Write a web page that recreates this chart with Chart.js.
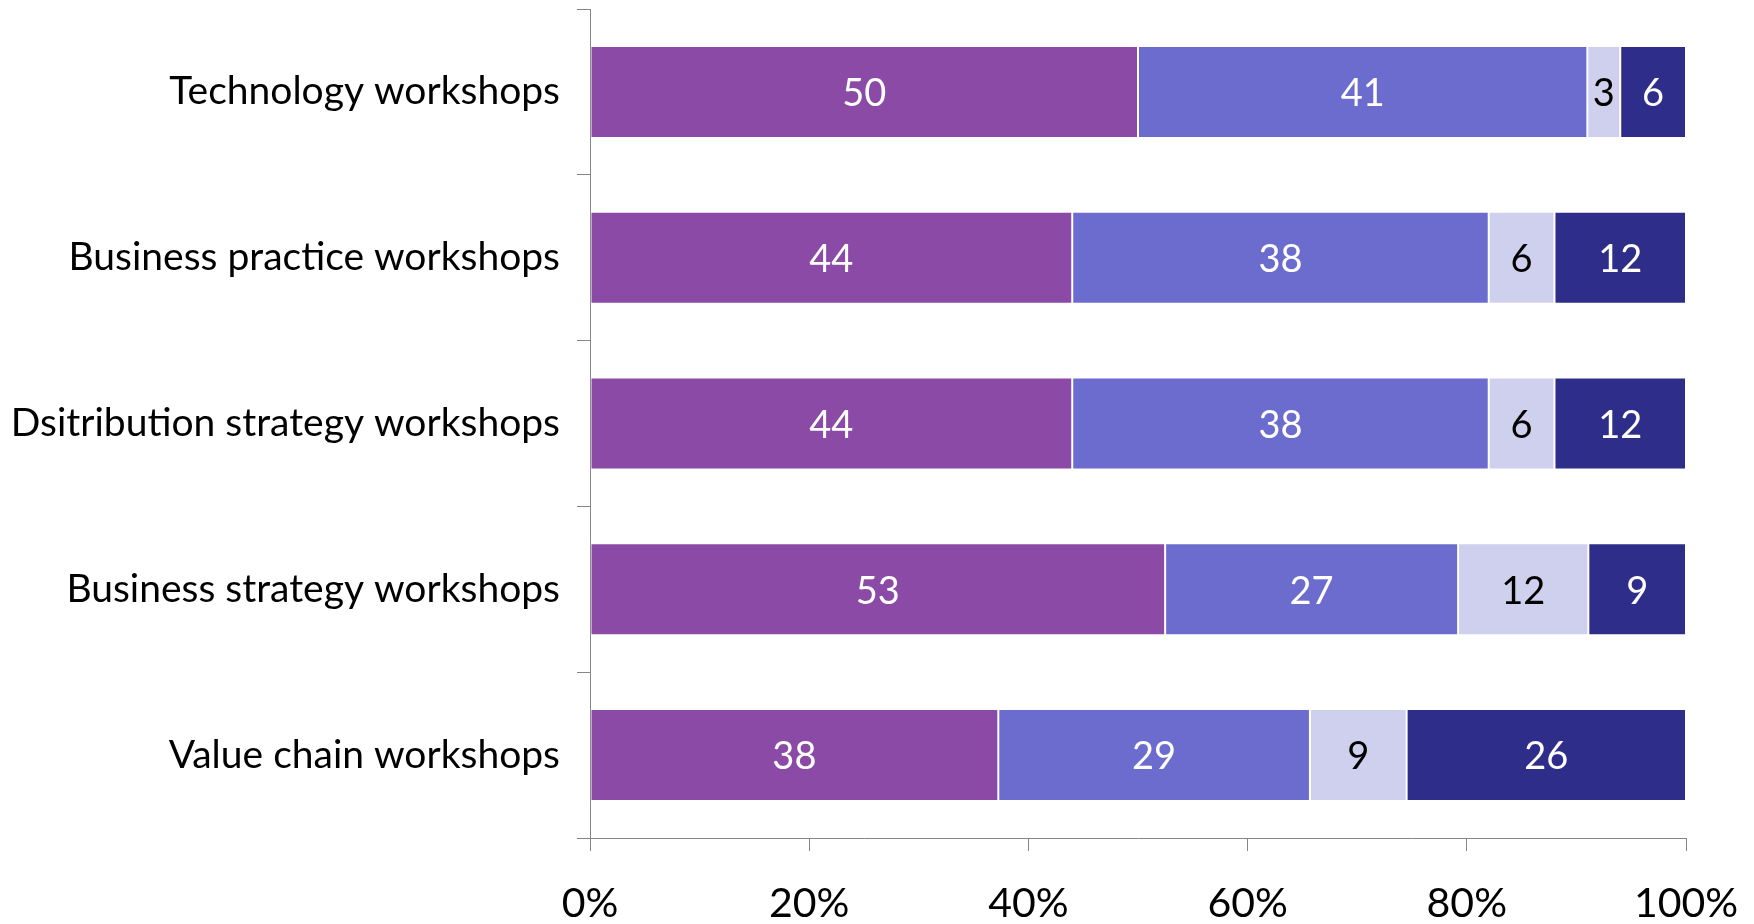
<!DOCTYPE html>
<html lang="en">

<head>
  <meta charset="UTF-8" />
  <title>Workshop ratings</title>
  <script src="https://cdn.jsdelivr.net/npm/chart.js"></script>
  <style>
    body {
      margin: 0;
      background-color: #ffffff;
    }

    .chart-box {
      width: 1754px;
      height: 924px;
    }
  </style>
</head>

<body>
  <div class="chart-box">
    <canvas id="workshopChart"></canvas>
  </div>

  <script>
    const categories = [
      'Technology workshops',
      'Business practice workshops',
      'Dsitribution strategy workshops',
      'Business strategy workshops',
      'Value chain workshops'
    ];

    // values as printed on each segment
    const series1 = [50, 44, 44, 53, 38];
    const series2 = [41, 38, 38, 27, 29];
    const series3 = [3, 6, 6, 12, 9];
    const series4 = [6, 12, 12, 9, 26];

    const xTicks = [0, 20, 40, 60, 80, 100];

    const allSeries = [series1, series2, series3, series4];
    const colors = ['#8b4aa5', '#6b6cce', '#cfcfee', '#2e2e8a'];
    const labelColors = ['#ffffff', '#ffffff', '#000000', '#ffffff'];

    const fontFamily = "Lato, 'Open Sans', sans-serif";

    // 100% stacked: each row is scaled to its own total
    const totals = categories.map((c, i) => allSeries.reduce((s, arr) => s + arr[i], 0));

    const datasets = allSeries.map((arr, k) => ({
      label: 'Series ' + (k + 1),
      data: arr.map((v, i) => v / totals[i] * 100),
      raw: arr,
      backgroundColor: colors[k],
      borderColor: 'rgba(255,255,255,0.35)',
      borderWidth: 1,
      borderSkipped: false,
      barPercentage: 0.555,
      categoryPercentage: 1
    }));

    const segmentLabels = {
      id: 'segmentLabels',
      afterDatasetsDraw(chart) {
        const ctx = chart.ctx;
        ctx.save();
        ctx.font = '38px ' + fontFamily;
        ctx.textAlign = 'center';
        ctx.textBaseline = 'middle';
        chart.data.datasets.forEach((ds, k) => {
          chart.getDatasetMeta(k).data.forEach((bar, i) => {
            const c = bar.getCenterPoint();
            ctx.fillStyle = labelColors[k];
            ctx.fillText(String(ds.raw[i]), c.x, c.y + 2);
          });
        });
        ctx.restore();
      }
    };

    new Chart(document.getElementById('workshopChart').getContext('2d'), {
      type: 'bar',
      data: { labels: categories, datasets: datasets },
      options: {
        indexAxis: 'y',
        responsive: true,
        maintainAspectRatio: false,
        animation: false,
        layout: { padding: { top: 9, right: 68, left: 0, bottom: 0 } },
        plugins: {
          legend: { display: false },
          tooltip: { enabled: false }
        },
        scales: {
          x: {
            stacked: true,
            min: 0,
            max: 100,
            afterBuildTicks: (scale) => { scale.ticks = xTicks.map(v => ({ value: v })); },
            afterFit: (scale) => {
              scale.height = 86;
              scale.paddingLeft = 0;
              scale.paddingRight = 0;
            },
            border: { color: '#868686', width: 1 },
            grid: { drawOnChartArea: false, tickLength: 13, color: '#868686' },
            ticks: {
              padding: 28,
              color: '#000000',
              font: { family: fontFamily, size: 41 },
              callback: (v) => v + '%'
            }
          },
          y: {
            stacked: true,
            afterFit: (scale) => {
              scale.width = 590;
              scale.paddingTop = 0;
              scale.paddingBottom = 0;
            },
            border: { color: '#868686', width: 1 },
            grid: { offset: true, drawOnChartArea: false, tickLength: 13, color: '#868686' },
            ticks: {
              padding: 17,
              color: '#000000',
              font: { family: fontFamily, size: 39 }
            }
          }
        }
      },
      plugins: [segmentLabels]
    });
  </script>
</body>

</html>
